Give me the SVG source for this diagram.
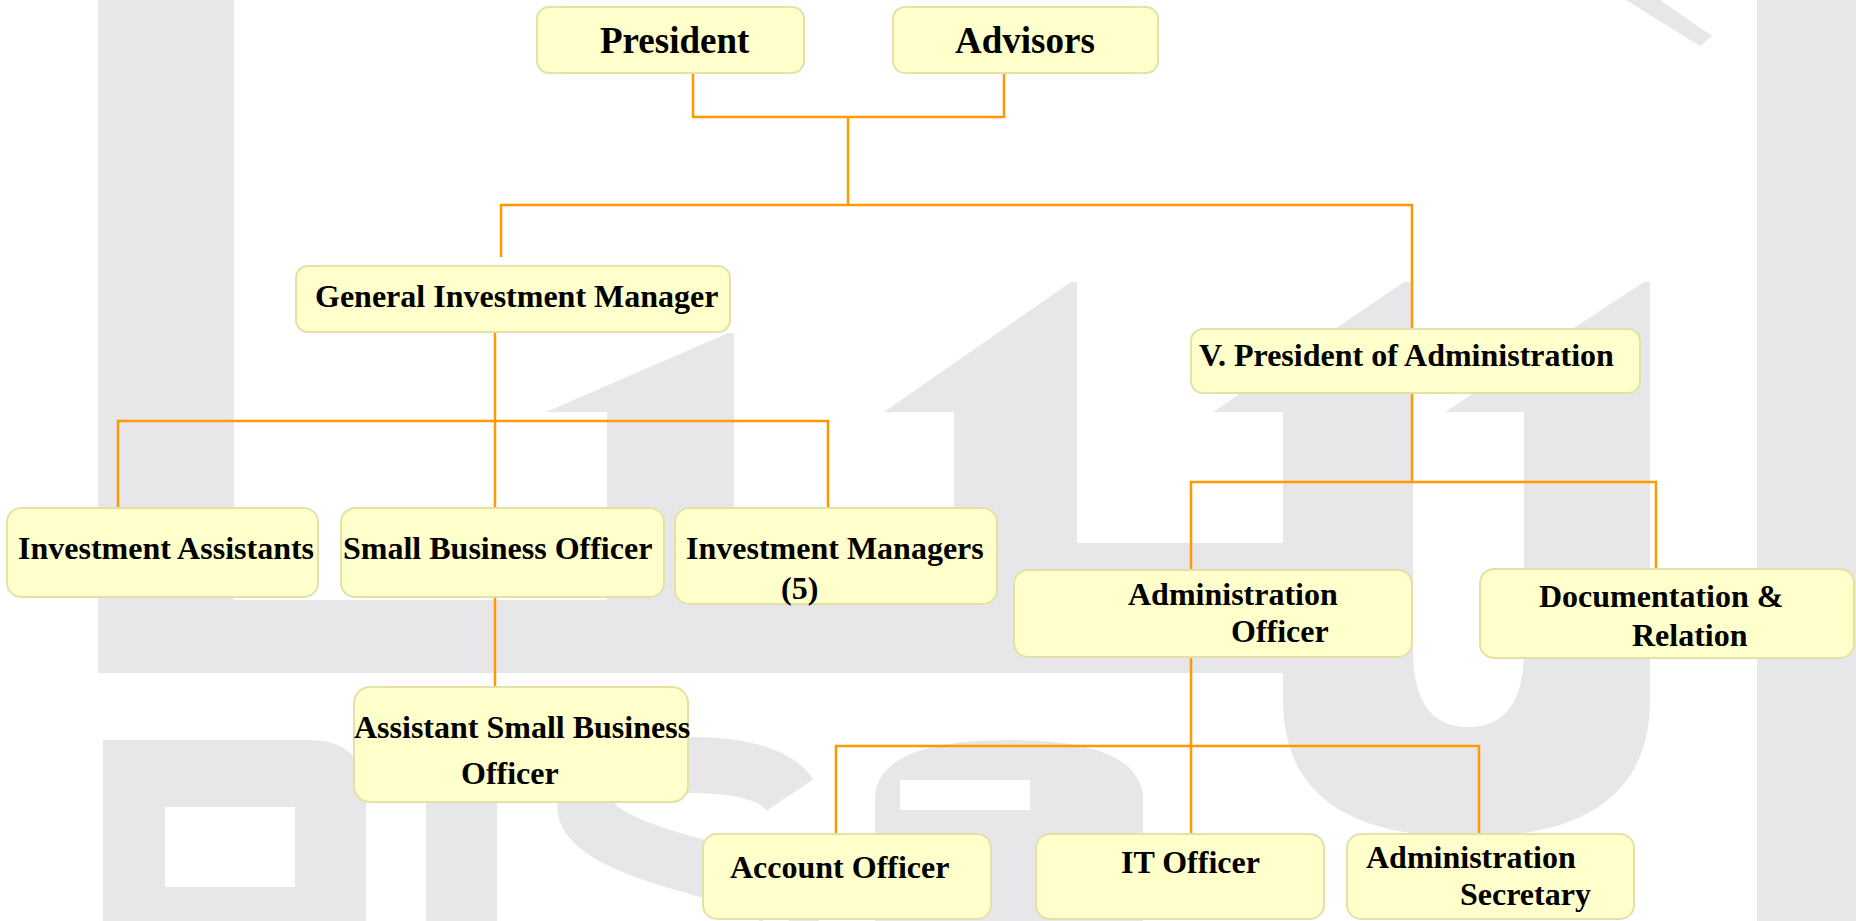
<svg xmlns="http://www.w3.org/2000/svg" width="1856" height="921" viewBox="0 0 1856 921">
<style>
.box{fill:#FFFFCC;stroke:#E4E1A6;stroke-width:2}
.t{font-family:"Liberation Serif","Times New Roman",serif;font-weight:bold;font-size:32px;fill:#000}
.big{font-size:37px}
.wm{fill:#E7E7EA}
.c{fill:none;stroke:#FF9900;stroke-width:2.5}
</style>
<rect width="1856" height="921" fill="#FFFFFF"/>
<g id="watermark">
<path class="wm" d="M98,0 H234 V600 H607 V412 H546 L728,333 H734 V600 H954 V412 H884 L1071,282 H1077 V543 H1283 V412 H1213 L1404,282 H1413 V673 H98 Z"/>
<path class="wm" d="M1283,600 V700 Q1283,837 1467,837 Q1650,837 1650,700 V282 H1644 L1445,412 H1524 V650 Q1524,727 1468,727 Q1413,727 1413,650 V600 Z"/>
<path class="wm" d="M1626,0 H1660 L1712,36 L1700,46 Z"/>
<rect class="wm" x="1757" y="0" width="99" height="921"/>
<path class="wm" fill-rule="evenodd" d="M103,740 H310 Q366,740 366,800 V921 H103 Z M165,807 V887 H295 V807 Z"/>
<rect class="wm" x="426" y="740" width="71" height="181"/>
<path d="M790,795 Q770,765 690,765 Q585,765 585,805 Q585,835 680,862 Q800,895 790,921" fill="none" stroke="#E7E7EA" stroke-width="56"/>
<path class="wm" fill-rule="evenodd" d="M875,921 V800 Q875,740 1009,740 Q1143,740 1143,800 V921 Z M900,780 H1030 V810 H900 Z"/>
</g>
<g id="connectors">
<path class="c" d="M693,73 V117 H1004 V73"/>
<path class="c" d="M848,117 V205"/>
<path class="c" d="M501,257 V205 H1412 V329"/>
<path class="c" d="M495,332 V508"/>
<path class="c" d="M118,508 V421 H828 V508"/>
<path class="c" d="M495,597 V687"/>
<path class="c" d="M1412,393 V482"/>
<path class="c" d="M1191,570 V482 H1656 V569"/>
<path class="c" d="M1191,657 V834"/>
<path class="c" d="M836,834 V746 H1479 V834"/>
</g>
<g id="president"><rect class="box" x="537" y="7" width="267" height="66" rx="12"/><text class="t big" x="600" y="53">President</text></g>
<g id="advisors"><rect class="box" x="893" y="7" width="265" height="66" rx="12"/><text class="t big" x="955" y="53">Advisors</text></g>
<g id="general-investment-manager"><rect class="box" x="296" y="266" width="434" height="66" rx="12"/><text class="t" x="315" y="307">General Investment Manager</text></g>
<g id="vp-administration"><rect class="box" x="1191" y="329" width="449" height="64" rx="12"/><text class="t" x="1199" y="366">V. President of Administration</text></g>
<g id="investment-assistants"><rect class="box" x="7" y="508" width="311" height="89" rx="14"/><text class="t" x="18" y="559">Investment Assistants</text></g>
<g id="small-business-officer"><rect class="box" x="341" y="508" width="323" height="89" rx="14"/><text class="t" x="343" y="559">Small Business Officer</text></g>
<g id="investment-managers"><rect class="box" x="675" y="508" width="322" height="96" rx="14"/><text class="t" x="686" y="559">Investment Managers</text><text class="t" x="781" y="599">(5)</text></g>
<g id="assistant-small-business-officer"><rect class="box" x="354" y="687" width="334" height="115" rx="16"/><text class="t" x="354" y="738">Assistant Small Business</text><text class="t" x="461" y="784">Officer</text></g>
<g id="administration-officer"><rect class="box" x="1014" y="570" width="398" height="87" rx="14"/><text class="t" x="1128" y="605">Administration</text><text class="t" x="1231" y="642">Officer</text></g>
<g id="documentation-relation"><rect class="box" x="1480" y="569" width="374" height="89" rx="14"/><text class="t" x="1539" y="607">Documentation &amp;</text><text class="t" x="1632" y="646">Relation</text></g>
<g id="account-officer"><rect class="box" x="703" y="834" width="288" height="85" rx="14"/><text class="t" x="730" y="878">Account Officer</text></g>
<g id="it-officer"><rect class="box" x="1036" y="834" width="288" height="85" rx="14"/><text class="t" x="1121" y="873">IT Officer</text></g>
<g id="administration-secretary"><rect class="box" x="1347" y="834" width="287" height="85" rx="14"/><text class="t" x="1366" y="868">Administration</text><text class="t" x="1460" y="905">Secretary</text></g>
</svg>
